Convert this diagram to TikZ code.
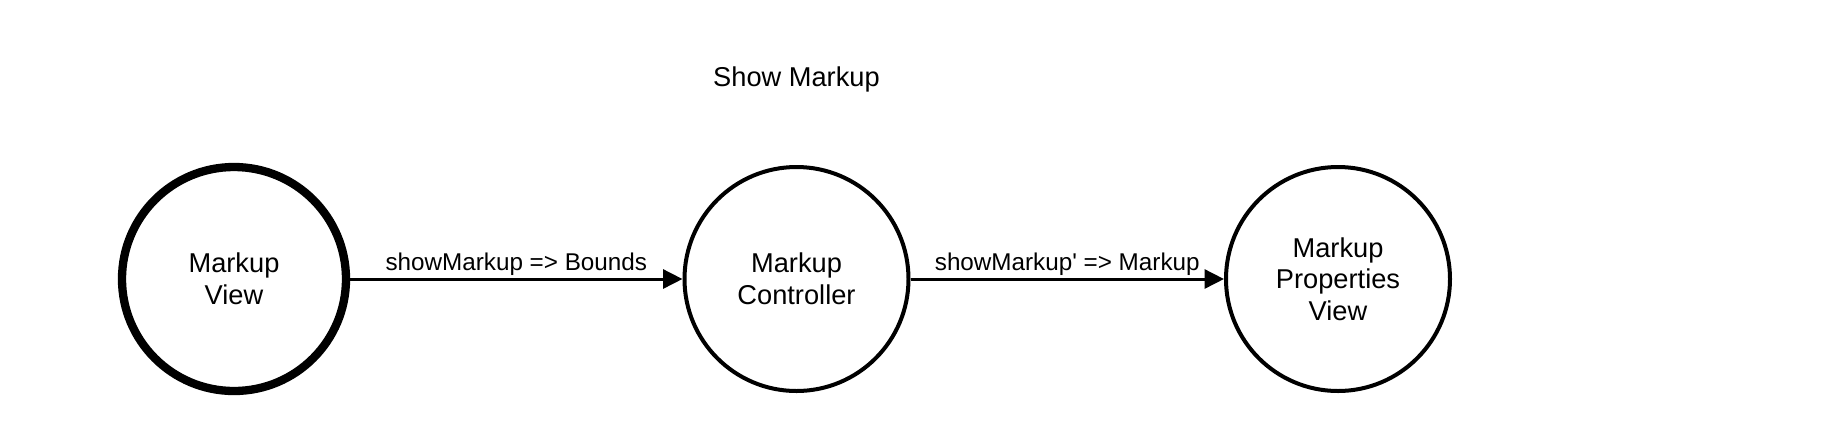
\documentclass[tikz,border=0pt]{standalone}
\usepackage{fontspec}
\setmainfont{Liberation Sans}
\usetikzlibrary{arrows.meta}

\begin{document}
\begin{tikzpicture}
	\tikzset{
		state/.style={circle,draw,line width=0.08cm,minimum size=4.48cm,inner sep=0pt,
			align=center,font=\fontsize{15.5}{18}\selectfont},
		start state/.style={state,line width=0.166cm},
		msg/.style={line width=0.06cm,-{Triangle[length=0.39cm,width=0.38cm]}},
		msg label/.style={font=\fontsize{13.8}{16}\selectfont}}
	\useasboundingbox (0,0) rectangle (36.8,-8.82);
	\node[font=\fontsize{15.5}{18}\selectfont](t) at (15.93,-1.58){Show Markup};
	\node[start state](mv) at (4.68,-5.58){Markup\\View};
	\node[state](mc) at (15.93,-5.58){Markup\\Controller};
	\node[state](mp) at (26.76,-5.58){Markup\\Properties\\View};
	\draw[msg](mv)--(mc) node[midway,above=-0.08cm,msg label]{showMarkup => Bounds};
	\draw[msg](mc)--(mp) node[midway,above=-0.08cm,msg label]{showMarkup\textquotesingle{} => Markup};
\end{tikzpicture}
\end{document}
